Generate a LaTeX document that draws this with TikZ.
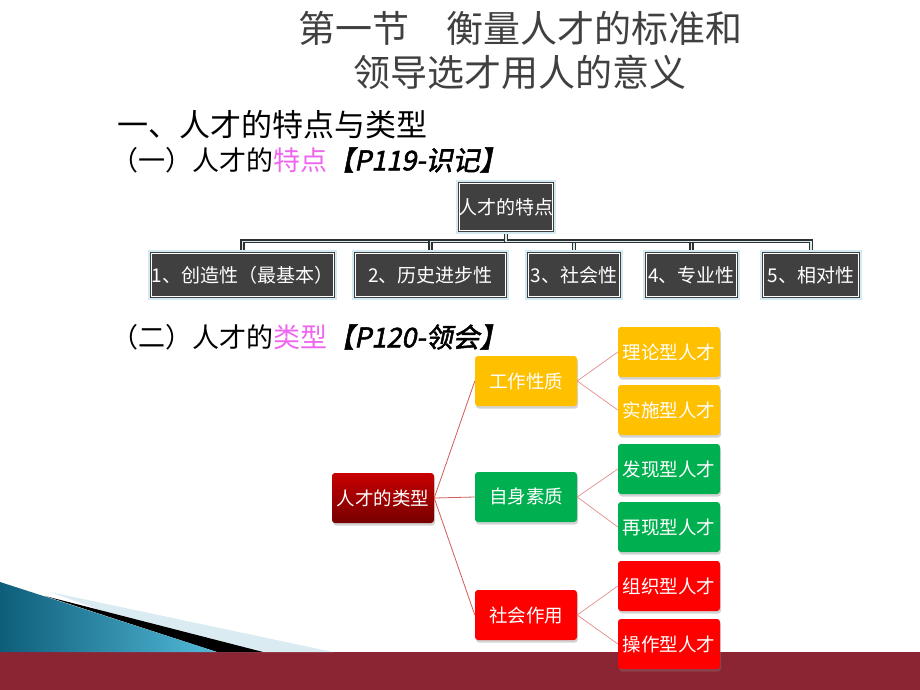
\documentclass[tikz,border=0pt]{standalone}
\usepackage{fontspec}
\setmainfont{Noto Sans CJK SC}
\newfontfamily\tagfont[FakeSlant=0.2,FakeBold=2]{Noto Sans CJK SC}
\usetikzlibrary{shadows,calc}

\definecolor{titlegray}{RGB}{64,64,64}
\definecolor{hotpink}{RGB}{238,102,238}
\definecolor{featgray}{RGB}{64,64,64}
\definecolor{featedge}{RGB}{212,234,242}
\definecolor{linkgray}{RGB}{48,48,48}
\definecolor{typered}{RGB}{200,0,0}
\definecolor{typedark}{RGB}{118,0,0}
\definecolor{workgold}{RGB}{255,192,0}
\definecolor{selfgreen}{RGB}{0,176,80}
\definecolor{socred}{RGB}{255,0,0}
\definecolor{typelink}{RGB}{210,90,90}
\definecolor{leaflink}{RGB}{230,140,140}
\definecolor{barred}{RGB}{139,37,51}
\definecolor{wedgedark}{RGB}{14,94,122}
\definecolor{wedgelight}{RGB}{82,186,216}
\definecolor{wedgepale}{RGB}{218,235,242}

\tikzset{
	featbox/.style={fill=featgray, draw=featedge, line width=2.5pt, text=white,
		font=\fontsize{19}{21}\selectfont, minimum height=48, inner sep=0pt},
	featlink/.style={draw=linkgray, line width=1.4pt, double=featedge, double distance=1.3pt},
	typebox/.style={rounded corners=3pt, text=white, font=\fontsize{18.5}{20}\selectfont,
		minimum width=102, minimum height=50, inner sep=0pt,
		drop shadow={shadow xshift=1pt, shadow yshift=-2.5pt, opacity=0.35}},
	typelinkline/.style={draw=typelink, line width=0.8pt},
	leaflinkline/.style={draw=leaflink, line width=0.7pt},
	heading/.style={anchor=west, inner sep=0pt}
}

\begin{document}
\begin{tikzpicture}[x=1pt, y=-1pt]
	\useasboundingbox (0,0) rectangle (920,690);

	% slide footer
	\fill [barred] (0,652) rectangle (920,690);
	\fill [wedgepale] (50,592) -- (333,652) -- (217,652) -- cycle;
	\fill [black] (45,596) -- (263,652) -- (217,652) -- cycle;
	\shade [left color=wedgedark, right color=wedgelight] (0,582) -- (217,652) -- (0,652) -- cycle;

	\node [align=center, text=titlegray, font=\fontsize{37}{44}\selectfont] (title) at (520,50) {第一节　衡量人才的标准和\\领导选才用人的意义};
	\node [heading, font=\fontsize{31}{33}\selectfont] (sec1) at (117,125) {一、人才的特点与类型};
	\node [heading, font=\fontsize{27}{29}\selectfont] (sub1) at (111,160) {（一）人才的\textcolor{hotpink}{特点}{\tagfont【P119-识记】}};
	\node [heading, font=\fontsize{27}{29}\selectfont] (sub2) at (111,337) {（二）人才的\textcolor{hotpink}{类型}{\tagfont【P120-领会】}};

	% features
	\node [featbox, minimum width=98, minimum height=52] (f0) at (506,207) {人才的特点};
	\node [featbox, minimum width=187] (f1) at (242.5,275) {1、创造性（最基本）};
	\node [featbox, minimum width=155] (f2) at (430.5,275) {2、历史进步性};
	\node [featbox, minimum width=96] (f3) at (574,275) {3、社会性};
	\node [featbox, minimum width=95] (f4) at (691.5,275) {4、专业性};
	\node [featbox, minimum width=100] (f5) at (811,275) {5、相对性};
	\foreach \n in {f0,f1,f2,f3,f4,f5}
		\draw [white, line width=0.7pt] ($(\n.north west)+(4,4)$) rectangle ($(\n.south east)+(-4,-4)$);
	\foreach \n in {f1,f2,f3,f4,f5}
		\draw [featlink] (f0.south) -- ++(0,7) -| (\n.north);

	% types
	\node [typebox, top color=typered, bottom color=typedark] (types) at (383,498) {人才的类型};
	\node [typebox, fill=workgold] (work) at (526,381) {工作性质};
	\node [typebox, fill=selfgreen] (self) at (526,497) {自身素质};
	\node [typebox, fill=socred] (social) at (526,615) {社会作用};
	\node [typebox, fill=workgold] (theory) at (669,352) {理论型人才};
	\node [typebox, fill=workgold] (practice) at (669,410) {实施型人才};
	\node [typebox, fill=selfgreen] (discover) at (669,469) {发现型人才};
	\node [typebox, fill=selfgreen] (reproduce) at (669,527) {再现型人才};
	\node [typebox, fill=socred] (organize) at (669,586) {组织型人才};
	\node [typebox, fill=socred] (operate) at (669,644) {操作型人才};

	\foreach \n in {work,self,social}
		\draw [typelinkline] (types.east) -- (\n.west);
	\draw [leaflinkline] (work.east) -- (theory.west);
	\draw [leaflinkline] (work.east) -- (practice.west);
	\draw [leaflinkline] (self.east) -- (discover.west);
	\draw [leaflinkline] (self.east) -- (reproduce.west);
	\draw [leaflinkline] (social.east) -- (organize.west);
	\draw [leaflinkline] (social.east) -- (operate.west);
\end{tikzpicture}
\end{document}
